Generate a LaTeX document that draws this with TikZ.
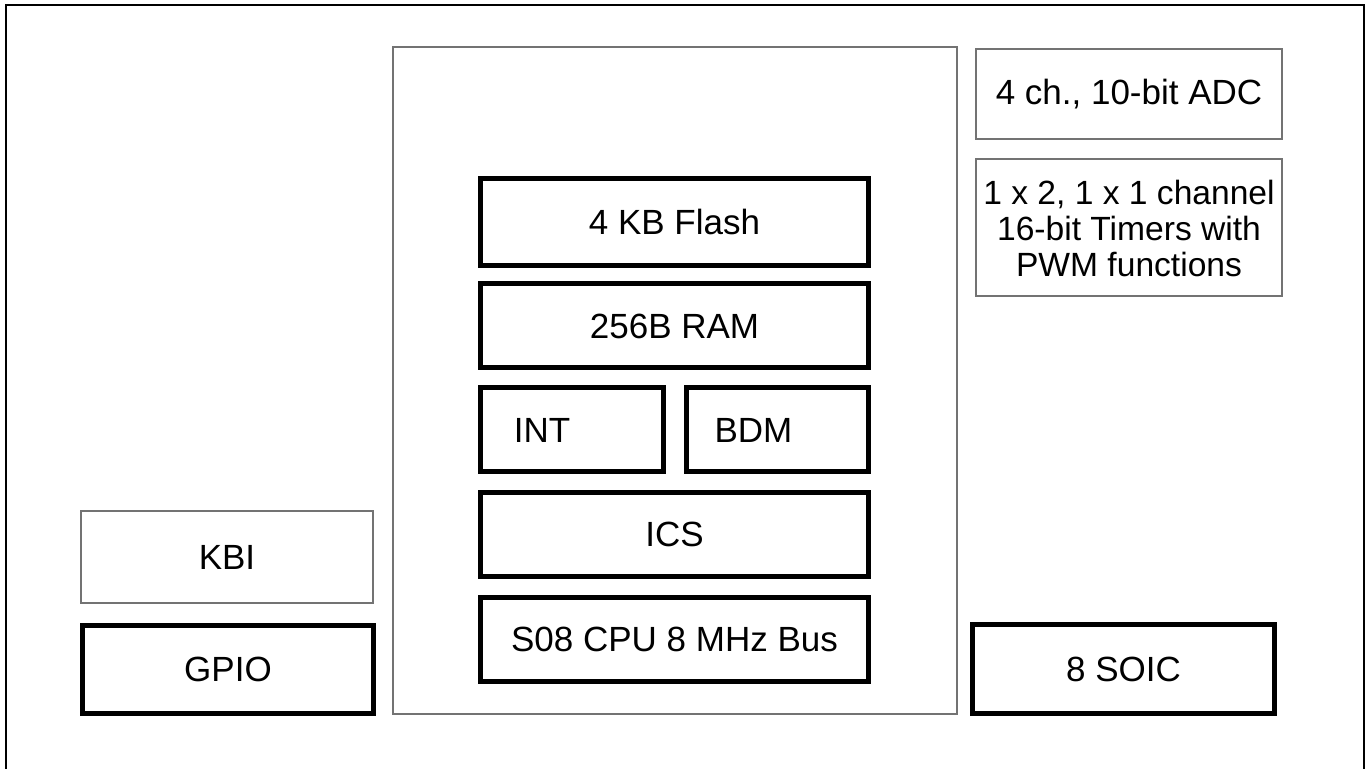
\documentclass[tikz,border=0pt]{standalone}
\usepackage{fontspec}
\setmainfont{Liberation Sans}
\usepackage{tikz}
\usetikzlibrary{positioning}

\tikzset{
    boldblock/.style={draw=black, line width=2.5pt, fill=white, inner sep=0pt, align=center},
    lightblock/.style={draw=black!55, line width=1pt, fill=white, inner sep=0pt, align=center},
}

\begin{document}
\begin{tikzpicture}[x=0.5pt, y=-0.5pt, font=\fontsize{17.5}{17.5}\selectfont]

    \useasboundingbox (0,0) rectangle (1369,769);

    % ==========================================
    % FRAME (open at the bottom)
    % ==========================================
    \coordinate (frameBL) at (6,769);
    \coordinate (frameTL) at (6,5);
    \coordinate (frameTR) at (1364,5);
    \coordinate (frameBR) at (1364,769);
    \draw[line width=1.3pt, color=black] (frameBL) -- (frameTL) -- (frameTR) -- (frameBR);

    % ==========================================
    % CORE: memory, control and CPU
    % ==========================================
    \node[lightblock, minimum width=282pt, minimum height=333.5pt] (core) at (675, 380.5) {};

    \node[boldblock, minimum width=194pt, minimum height=43.5pt] (flash) at (674.5, 222) {4 KB Flash};
    \node[boldblock, minimum width=194pt, minimum height=42pt] (ram) at (674.5, 326) {256B RAM};
    \node[boldblock, minimum width=91.5pt, minimum height=42pt] (int) at (572, 430) {\hspace*{-30pt}INT};
    \node[boldblock, minimum width=91pt, minimum height=42pt] (bdm) at (777.5, 430) {\hspace*{-24pt}BDM};
    \node[boldblock, minimum width=194pt, minimum height=42pt] (ics) at (674.5, 534) {ICS};
    \node[boldblock, minimum width=194pt, minimum height=42pt] (cpu) at (674.5, 639.5) {S08 CPU 8 MHz Bus};

    % ==========================================
    % LEFT: keyboard interrupt and GPIO
    % ==========================================
    \node[lightblock, minimum width=146pt, minimum height=46pt] (kbi) at (227, 557) {KBI};
    \node[boldblock, minimum width=145.5pt, minimum height=44pt] (gpio) at (228, 669.5) {GPIO};

    % ==========================================
    % RIGHT: ADC, timers and package
    % ==========================================
    \node[lightblock, minimum width=153pt, minimum height=45pt] (adc) at (1129, 94) {4 ch., 10-bit ADC};
    \node[lightblock, minimum width=153pt, minimum height=68.5pt,
          font=\fontsize{16.8}{18}\selectfont] (tpm) at (1129, 228)
        {1 x 2, 1 x 1 channel\\16-bit Timers with\\PWM functions};
    \node[boldblock, minimum width=151pt, minimum height=44.5pt] (soic) at (1123.5, 669) {8 SOIC};

\end{tikzpicture}
\end{document}
